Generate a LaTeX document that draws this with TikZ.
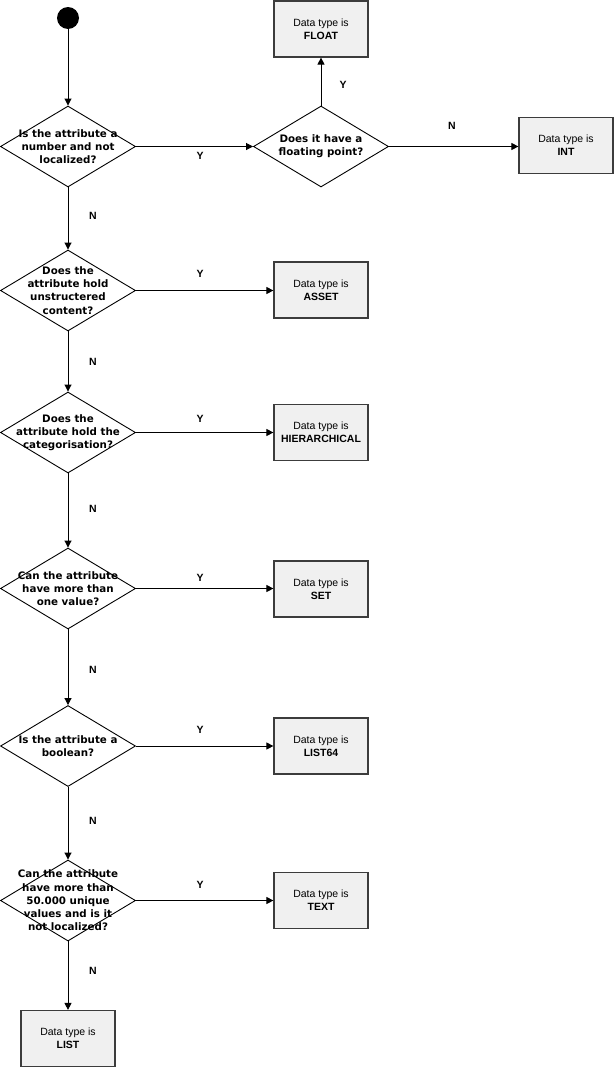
\documentclass[tikz,border=0pt]{standalone}
\usepackage{fontspec}
\setmainfont{Liberation Sans}
\newfontfamily\diafont{DejaVu Sans}
\usetikzlibrary{shapes.geometric,arrows.meta}
\begin{document}
\begin{tikzpicture}[x=1pt,y=-1pt,
  every path/.style={line width=0.9pt},
  dia/.style={diamond,draw=black,line width=0.9pt,minimum width=135pt,minimum height=81pt,inner sep=0pt,shape aspect=1.667},
  diatext/.style={font=\diafont\bfseries\fontsize{10.3}{13.3}\selectfont,align=center,inner sep=0pt},
  dtbox/.style={rectangle,draw={rgb,255:red,60;green,60;blue,60},line width=1.2pt,fill={rgb,255:red,240;green,240;blue,240},minimum width=94pt,minimum height=56pt,inner sep=0pt,align=center,font=\fontsize{10.5}{13}\selectfont},
  lbl/.style={font=\bfseries\fontsize{10.5}{12}\selectfont,inner sep=0pt},
  arr/.style={-{Triangle[length=7pt,width=7pt]},line width=0.9pt}
]
\useasboundingbox (0,0) rectangle (614,1068);
\node[circle,fill=black,minimum size=22pt,inner sep=0pt] (start) at (68,18) {};

\node[dia] (d1) at (68,146.5) {};
\node[diatext] at (68,146.5) {Is the attribute a\\number and not\\localized?};
\node[dia] (d2) at (321,146.5) {};
\node[diatext] at (321,146.5) {Does it have a\\floating point?};
\node[dia] (d3) at (68,290.5) {};
\node[diatext] at (68,290.5) {Does the\\attribute hold\\unstructered\\content?};
\node[dia] (d4) at (68,432.5) {};
\node[diatext] at (68,432.5) {Does the\\attribute hold the\\categorisation?};
\node[dia] (d5) at (68,588.5) {};
\node[diatext] at (68,588.5) {Can the attribute\\have more than\\one value?};
\node[dia] (d6) at (68,746) {};
\node[diatext] at (68,746) {Is the attribute a\\boolean?};
\node[dia] (d7) at (68,900.5) {};
\node[diatext] at (68,900.5) {Can the attribute\\have more than\\50.000 unique\\values and is it\\not localized?};

\node[dtbox] (float) at (321,29) {Data type is\\\textbf{FLOAT}};
\node[dtbox] (int) at (566,145.5) {Data type is\\\textbf{INT}};
\node[dtbox] (asset) at (321,290) {Data type is\\\textbf{ASSET}};
\node[dtbox] (hier) at (321,432.5) {Data type is\\\textbf{HIERARCHICAL}};
\node[dtbox] (set) at (321,589) {Data type is\\\textbf{SET}};
\node[dtbox] (list64) at (321,746) {Data type is\\\textbf{LIST64}};
\node[dtbox] (text) at (321,900.5) {Data type is\\\textbf{TEXT}};
\node[dtbox] (list) at (68,1038.5) {Data type is\\\textbf{LIST}};

\draw[arr] (start) -- (d1.north);
\draw[arr] (d1.east) -- (d2.west);
\draw[arr] (d2.north) -- (float.south);
\draw[arr] (d2.east) -- (int.west |- d2.east);
\draw[arr] (d1.south) -- (d3.north);
\draw[arr] (d3.east) -- (asset.west |- d3.east);
\draw[arr] (d3.south) -- (d4.north);
\draw[arr] (d4.east) -- (hier.west |- d4.east);
\draw[arr] (d4.south) -- (d5.north);
\draw[arr] (d5.east) -- (set.west |- d5.east);
\draw[arr] (d5.south) -- (d6.north);
\draw[arr] (d6.east) -- (list64.west |- d6.east);
\draw[arr] (d6.south) -- (d7.north);
\draw[arr] (d7.east) -- (text.west |- d7.east);
\draw[arr] (d7.south) -- (list.north);

\node[lbl] (y1) at (200,156) {Y};
\node[lbl] (y2) at (343,85) {Y};
\node[lbl] (n1) at (452,126) {N};
\node[lbl] (y3) at (200,274) {Y};
\node[lbl] (y4) at (200,419) {Y};
\node[lbl] (y5) at (200,578) {Y};
\node[lbl] (y6) at (200,730) {Y};
\node[lbl] (y7) at (200,885) {Y};
\node[lbl] (n2) at (93,216) {N};
\node[lbl] (n3) at (93,362) {N};
\node[lbl] (n4) at (93,509) {N};
\node[lbl] (n5) at (93,670) {N};
\node[lbl] (n6) at (93,821) {N};
\node[lbl] (n7) at (93,971) {N};
\end{tikzpicture}
\end{document}
